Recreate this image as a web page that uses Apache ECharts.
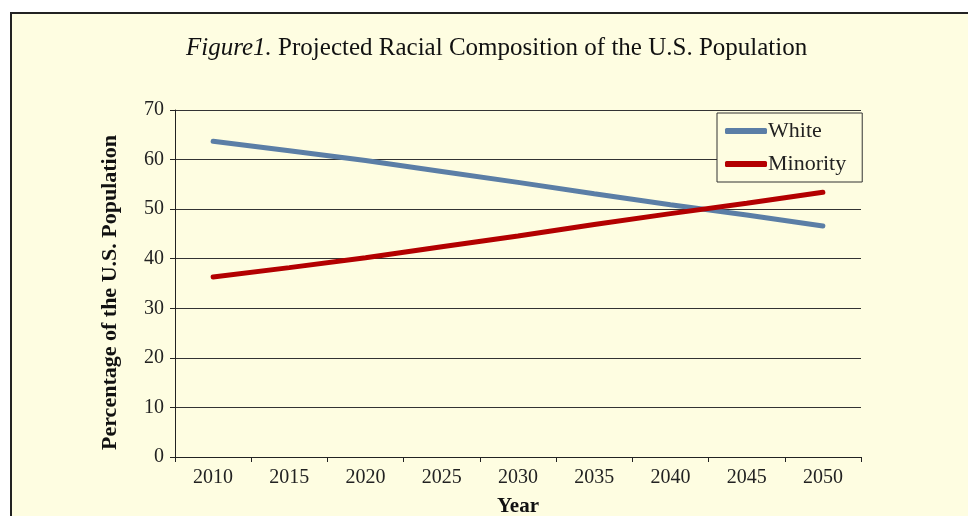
<!DOCTYPE html>
<html><head><meta charset="utf-8">
<script src="https://cdn.jsdelivr.net/npm/echarts@6/dist/echarts.min.js"></script>
<style>html,body{margin:0;padding:0;background:#fff}#c{width:968px;height:516px}</style>
</head><body><div id="c"></div>
<script>
var years = ['2010','2015','2020','2025','2030','2035','2040','2045','2050'];
var white = [63.7, 61.8, 59.8, 57.6, 55.4, 53.1, 50.9, 48.8, 46.6];
var minority = [36.3, 38.2, 40.2, 42.4, 44.6, 46.9, 49.1, 51.2, 53.4];
var yTicks = [0, 10, 20, 30, 40, 50, 60, 70];

var serif = '"Liberation Serif", "DejaVu Serif", serif';
var chart = echarts.init(document.getElementById('c'));
chart.setOption({
  backgroundColor: '#ffffff',
  animation: false,
  graphic: [{
    type: 'rect', z: -10, silent: true,
    shape: {x: 11, y: 13, width: 970, height: 520},
    style: {fill: '#FEFDE1', stroke: '#222', lineWidth: 2}
  }],
  title: {
    left: 181, top: 31,
    text: '{i|Figure1.} Projected Racial Composition of the U.S. Population',
    textStyle: {
      fontFamily: serif, fontSize: 25, fontWeight: 'normal', color: '#111',
      rich: {i: {fontFamily: serif, fontSize: 25, fontStyle: 'italic', color: '#111'}}
    }
  },
  legend: {
    orient: 'vertical', left: 717, top: 113,
    padding: [7, 16, 7, 8],
    itemWidth: 42, itemHeight: 6, itemGap: 11,
    icon: 'roundRect',
    borderColor: '#333', borderWidth: 1,
    backgroundColor: '#FEFDE1',
    textStyle: {fontFamily: serif, fontSize: 22, color: '#222', padding: [0,0,0,-4], lineHeight: 22},
    data: ['White', 'Minority']
  },
  grid: {left: 175, top: 110, right: 107, bottom: 59, containLabel: false, outerBoundsMode: 'none'},
  xAxis: {
    type: 'category', data: years, boundaryGap: true,
    name: 'Year', nameLocation: 'middle', nameGap: 39,
    nameTextStyle: {fontFamily: serif, fontSize: 21, fontWeight: 'bold', color: '#111'},
    axisLine: {lineStyle: {color: '#222', width: 1}},
    axisTick: {show: true, length: 5, alignWithLabel: false, lineStyle: {color: '#222'}},
    axisLabel: {fontFamily: serif, fontSize: 20, color: '#222', margin: 11}
  },
  yAxis: {
    type: 'value', min: yTicks[0], max: yTicks[yTicks.length-1], interval: 10,
    name: 'Percentage of the U.S. Population', nameLocation: 'middle', nameGap: 54,
    nameRotate: 90,
    nameTextStyle: {fontFamily: serif, fontSize: 22, fontWeight: 'bold', color: '#111', padding: [0, 18, 0, 0]},
    axisLine: {show: true, lineStyle: {color: '#222', width: 1}},
    axisTick: {show: true, length: 5, lineStyle: {color: '#222'}},
    axisLabel: {fontFamily: serif, fontSize: 20, color: '#222', margin: 11},
    splitLine: {show: true, lineStyle: {color: '#333', width: 1}}
  },
  series: [
    {name: 'White', type: 'line', data: white, symbol: 'none',
     lineStyle: {color: '#5B7EA6', width: 5, cap: 'round'}, itemStyle: {color: '#5B7EA6'}},
    {name: 'Minority', type: 'line', data: minority, symbol: 'none',
     lineStyle: {color: '#B30000', width: 5, cap: 'round'}, itemStyle: {color: '#B30000'}}
  ]
});
</script></body></html>
